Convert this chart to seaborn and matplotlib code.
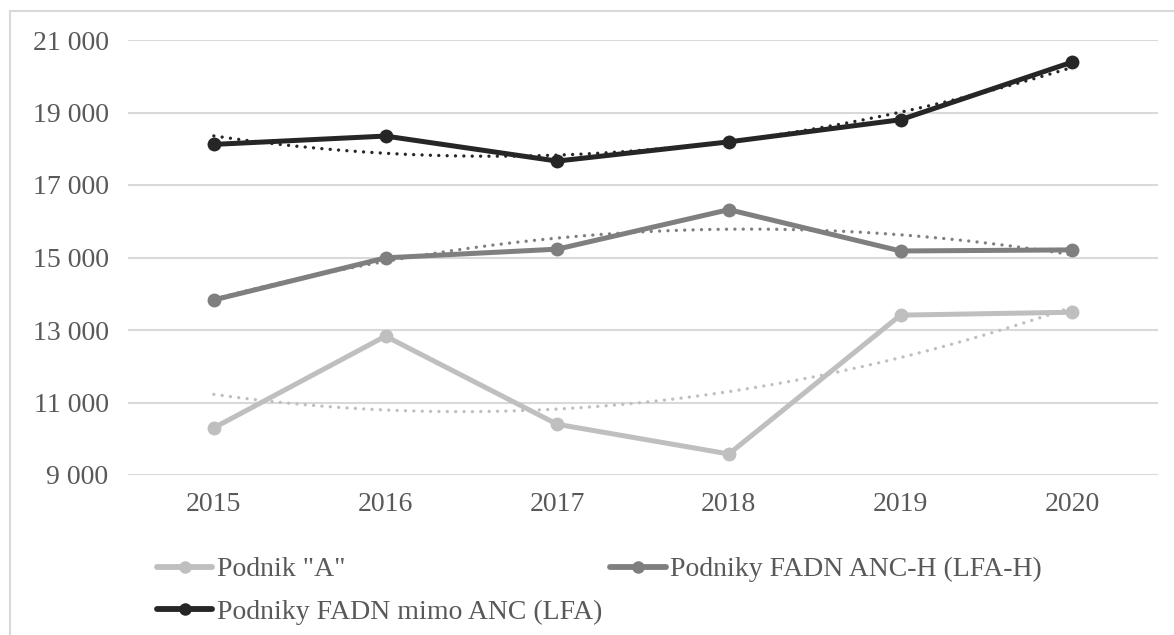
import numpy as np
import pandas as pd
import seaborn as sns
import matplotlib.pyplot as plt
from matplotlib.patches import Rectangle

years = ["2015", "2016", "2017", "2018", "2019", "2020"]
podnik_a = [10300, 12830, 10400, 9580, 13410, 13490]
fadn_lfa_h = [13830, 14990, 15230, 16320, 15180, 15210]
fadn_lfa = [18120, 18350, 17660, 18190, 18800, 20390]

labels = ['Podnik "A"', "Podniky FADN mimo ANC (LFA)", "Podniky FADN ANC-H (LFA-H)"]
series = [podnik_a, fadn_lfa, fadn_lfa_h]
colors = ["#BFBFBF", "#262626", "#7F7F7F"]
text_col = "#595959"

sns.set_theme(style="white")
plt.rcParams["font.family"] = ["Liberation Serif", "DejaVu Serif"]

fig = plt.figure(figsize=(11.74, 6.35), dpi=100)
ax = fig.add_axes([128 / 1174, 1 - 475 / 635, (1158 - 128) / 1174, (475 - 40) / 635])

# outer chart border (light gray), running off the right/bottom edges
fig.patches.append(Rectangle((10 / 1174, -0.1), 1.2, 1 - 11 / 635 + 0.1,
                             transform=fig.transFigure, fill=False,
                             edgecolor="#D9D9D9", lw=1.5, zorder=0))

x = np.arange(len(years))
xs = np.linspace(0, len(years) - 1, 200)
handles = []
for vals, lab, col in zip(series, labels, colors):
    df = pd.DataFrame({"x": x, "y": vals})
    sns.lineplot(data=df, x="x", y="y", ax=ax, color=col, lw=3.6,
                 marker="o", markersize=10, markeredgewidth=0, zorder=3)
    # polynomial (order 2) trendline, like the Excel one
    coef = np.polyfit(x, vals, 2)
    ax.plot(xs, np.polyval(coef, xs), color=col, lw=2.4,
            linestyle=(0, (0.01, 2.5)), dash_capstyle="round", zorder=2)
    handles.append(plt.Line2D([], [], color=col, lw=4.2, marker="o",
                              markersize=9, markeredgewidth=0))

ax.set_xlim(-0.5, len(years) - 0.5)
ax.set_ylim(9000, 21000)
ax.set_yticks(range(9000, 21001, 2000))
ax.set_yticklabels([f"{v:,}".replace(",", " ") for v in range(9000, 21001, 2000)])
ax.set_xticks(x)
ax.set_xticklabels(years)
ax.set_xlabel("")
ax.set_ylabel("")
ax.grid(axis="y", color="#D9D9D9", lw=1.5)
ax.grid(axis="x", visible=False)
for s in ax.spines.values():
    s.set_visible(False)
ax.tick_params(axis="both", length=0, labelsize=20, colors=text_col)
ax.tick_params(axis="y", pad=14)
ax.tick_params(axis="x", pad=12)

leg = fig.legend(handles, labels, ncol=2, loc="upper left",
                 bbox_to_anchor=(143 / 1174, 1 - 543 / 635), frameon=False,
                 fontsize=20, handlelength=2.0, handletextpad=0.15,
                 columnspacing=0.3, labelspacing=0.62, borderpad=0)
for t in leg.get_texts():
    t.set_color(text_col)

fig.savefig("out.png", dpi=100)
